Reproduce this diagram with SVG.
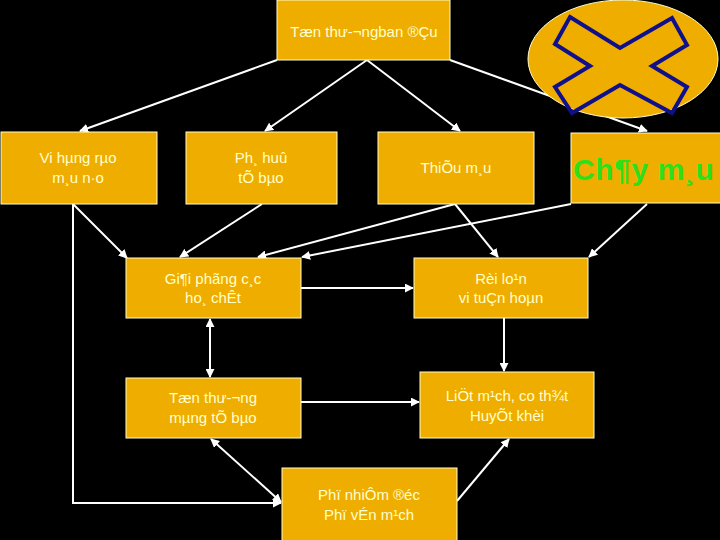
<svg xmlns="http://www.w3.org/2000/svg" width="720" height="540" viewBox="0 0 720 540">
<style>
.box{fill:#EFAD00;stroke:#FFFFCC;stroke-width:1}
.t{font-family:"Liberation Sans",Arial,sans-serif;font-size:15px;fill:#FFFFCC;text-anchor:middle}
.c{stroke:#FFFFFF;stroke-width:2;fill:none}
</style>
<defs>
<marker id="ah" viewBox="0 0 10 10" refX="9" refY="5" markerWidth="4.5" markerHeight="4.5" orient="auto-start-reverse" markerUnits="strokeWidth">
<path d="M0,0 L10,5 L0,10 z" fill="#FFFFFF"/>
</marker>
</defs>
<rect width="720" height="540" fill="#000000"/>
<g id="connectors">
<line class="c" x1="277" y1="60" x2="80" y2="131" marker-end="url(#ah)"/>
<line class="c" x1="367" y1="60" x2="265" y2="131" marker-end="url(#ah)"/>
<line class="c" x1="367" y1="60" x2="460" y2="131" marker-end="url(#ah)"/>
<line class="c" x1="450" y1="60" x2="647" y2="131" marker-end="url(#ah)"/>
<line class="c" x1="73" y1="204" x2="127" y2="258" marker-end="url(#ah)"/>
<polyline class="c" points="73,204 73,503 281,503" marker-end="url(#ah)"/>
<line class="c" x1="262" y1="204" x2="180" y2="257" marker-end="url(#ah)"/>
<line class="c" x1="455" y1="204" x2="258" y2="257" marker-end="url(#ah)"/>
<line class="c" x1="455" y1="204" x2="498" y2="257" marker-end="url(#ah)"/>
<line class="c" x1="571" y1="204" x2="302" y2="257" marker-end="url(#ah)"/>
<line class="c" x1="647" y1="204" x2="589" y2="257" marker-end="url(#ah)"/>
<line class="c" x1="301" y1="288" x2="413" y2="288" marker-end="url(#ah)"/>
<line class="c" x1="210" y1="319" x2="210" y2="377" marker-start="url(#ah)" marker-end="url(#ah)"/>
<line class="c" x1="504" y1="318" x2="504" y2="371" marker-end="url(#ah)"/>
<line class="c" x1="301" y1="402" x2="419" y2="402" marker-end="url(#ah)"/>
<line class="c" x1="211" y1="439" x2="281" y2="502" marker-start="url(#ah)" marker-end="url(#ah)"/>
<line class="c" x1="457" y1="501" x2="509" y2="439" marker-end="url(#ah)"/>
</g>
<g id="ellipse-x">
<ellipse cx="623" cy="59" rx="95" ry="59" fill="#EFAD00" stroke="#FFFFCC" stroke-width="1"/>
<polygon points="570,17 620,48 672,18 687,45 652,66 687,87 672,113 620,85 572,113 555,87 590,66 555,44" fill="none" stroke="#10108A" stroke-width="4" stroke-linejoin="miter"/>
</g>
<g id="n-top">
<rect class="box" x="277" y="0" width="173" height="60"/>
<text class="t" x="364" y="37">Tæn thư-¬ngban ®Çu</text>
</g>
<g id="n-vihang">
<rect class="box" x="1" y="132" width="156" height="72"/>
<text class="t" x="78" y="163">Vi hµng rµo</text>
<text class="t" x="78" y="183">m¸u n·o</text>
</g>
<g id="n-phahuy">
<rect class="box" x="186" y="132" width="151" height="72"/>
<text class="t" x="261" y="163">Ph¸ huû</text>
<text class="t" x="261" y="183">tÕ bµo</text>
</g>
<g id="n-thieumau">
<rect class="box" x="378" y="132" width="156" height="72"/>
<text class="t" x="456" y="173">ThiÕu m¸u</text>
</g>
<g id="n-chaymau">
<rect class="box" x="571" y="133" width="152" height="70"/>
<text x="573" y="180" font-family="Liberation Sans,Arial,sans-serif" font-size="30" font-weight="bold" letter-spacing="0.6" fill="#2EE01A">Ch¶y m¸u</text>
</g>
<g id="n-giaiphong">
<rect class="box" x="126" y="258" width="175" height="60"/>
<text class="t" x="213" y="284">Gi¶i phãng c¸c</text>
<text class="t" x="213" y="303">ho¸ chÊt</text>
</g>
<g id="n-roiloan">
<rect class="box" x="414" y="258" width="174" height="60"/>
<text class="t" x="501" y="284">Rèi lo¹n</text>
<text class="t" x="501" y="303">vi tuÇn hoµn</text>
</g>
<g id="n-tonthuong">
<rect class="box" x="126" y="378" width="175" height="60"/>
<text class="t" x="213" y="403">Tæn thư-¬ng</text>
<text class="t" x="213" y="423">mµng tÕ bµo</text>
</g>
<g id="n-lietmach">
<rect class="box" x="420" y="372" width="174" height="66"/>
<text class="t" x="507" y="401">LiÖt m¹ch, co th¾t</text>
<text class="t" x="507" y="421">HuyÕt khèi</text>
</g>
<g id="n-phune">
<rect class="box" x="282" y="468" width="175" height="75"/>
<text class="t" x="369" y="500">Phï nhiÔm ®éc</text>
<text class="t" x="369" y="520">Phï vÉn m¹ch</text>
</g>
</svg>
